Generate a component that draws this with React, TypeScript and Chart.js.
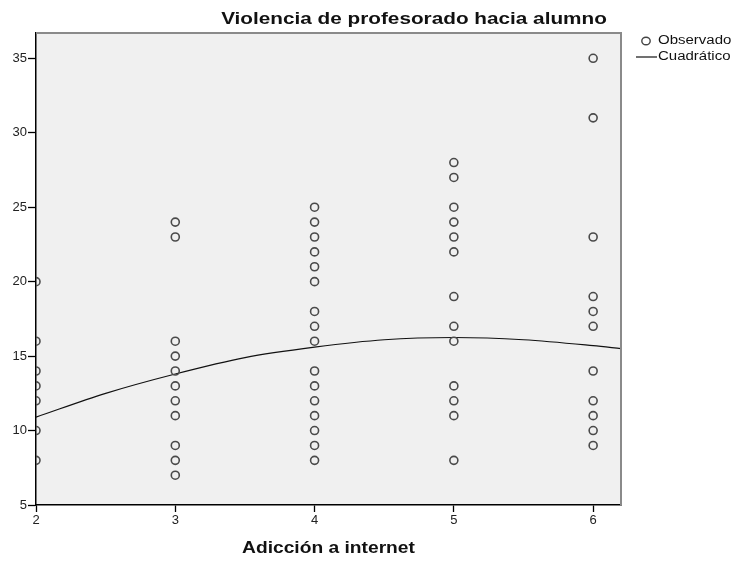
import React, { useEffect, useRef } from "react";
import { Chart, registerables } from "chart.js";

Chart.register(...registerables);

const chartTitle = "Violencia de profesorado hacia alumno";
const xAxisTitle = "Adicción a internet";
const legendObserved = "Observado";
const legendFit = "Cuadrático";

const xLevels = [2, 3, 4, 5, 6];
const valuesAt2 = [20, 16, 14, 13, 12, 10, 8];
const valuesAt3 = [24, 23, 16, 15, 14, 13, 12, 11, 9, 8, 7];
const valuesAt4 = [25, 24, 23, 22, 21, 20, 18, 17, 16, 14, 13, 12, 11, 10, 9, 8];
const valuesAt5 = [28, 27, 25, 24, 23, 22, 19, 17, 16, 13, 12, 11, 8];
const valuesAt6 = [35, 31, 23, 19, 18, 17, 14, 12, 11, 10, 9];
const valuesByLevel = [valuesAt2, valuesAt3, valuesAt4, valuesAt5, valuesAt6];

const curveX = [2, 2.5, 3, 3.5, 4, 4.5, 5, 5.5, 6, 6.2];
const curveY = [10.9, 12.5, 13.8, 14.9, 15.6, 16.1, 16.25, 16.1, 15.7, 15.5];

const yTicks = [5, 10, 15, 20, 25, 30, 35];
const xTicks = [2, 3, 4, 5, 6];

const FONT = '"Liberation Sans", Arial, sans-serif';

function stretchedText(ctx: CanvasRenderingContext2D, text: string, x: number, y: number, font: string, sx: number, align: CanvasTextAlign) {
  ctx.save();
  ctx.font = font;
  ctx.fillStyle = "#111";
  ctx.textBaseline = "middle";
  ctx.textAlign = align;
  ctx.translate(x, y);
  ctx.scale(sx, 1);
  ctx.fillText(text, 0, 0);
  ctx.restore();
}

const decorPlugin = {
  id: "decor",
  beforeDraw(chart: any) {
    const { ctx, chartArea } = chart;
    const { left, top, right, bottom } = chartArea;
    ctx.save();
    ctx.fillStyle = "#ffffff";
    ctx.fillRect(0, 0, chart.width, chart.height);
    ctx.fillStyle = "#f0f0f0";
    ctx.fillRect(left, top, right - left, bottom - top);
    ctx.restore();
  },
  afterDraw(chart: any) {
    const { ctx, chartArea } = chart;
    const { left, top, right, bottom } = chartArea;
    ctx.save();
    ctx.strokeStyle = "#8a8a8a";
    ctx.lineWidth = 2;
    ctx.beginPath();
    ctx.moveTo(left, top);
    ctx.lineTo(right, top);
    ctx.lineTo(right, bottom);
    ctx.stroke();
    ctx.restore();

    stretchedText(ctx, chartTitle, 414, 19, `bold 17px ${FONT}`, 1.22, "center");
    stretchedText(ctx, xAxisTitle, (left + right) / 2, 549, `bold 16px ${FONT}`, 1.2, "center");

    // legend
    ctx.save();
    ctx.strokeStyle = "#444";
    ctx.lineWidth = 1.4;
    ctx.beginPath();
    ctx.ellipse(646, 41, 4.2, 3.8, 0, 0, Math.PI * 2);
    ctx.stroke();
    ctx.strokeStyle = "#111";
    ctx.lineWidth = 1.2;
    ctx.beginPath();
    ctx.moveTo(636, 57);
    ctx.lineTo(657, 57);
    ctx.stroke();
    ctx.restore();
    stretchedText(ctx, legendObserved, 658, 41, `12px ${FONT}`, 1.25, "left");
    stretchedText(ctx, legendFit, 658, 57, `12px ${FONT}`, 1.25, "left");
  },
};

export default function App() {
  const ref = useRef<HTMLCanvasElement | null>(null);

  useEffect(() => {
    if (!ref.current) return;
    const points: { x: number; y: number }[] = [];
    xLevels.forEach((lv, i) => {
      valuesByLevel[i].forEach((v) => points.push({ x: lv, y: v }));
    });
    const curve = curveX.map((x, i) => ({ x, y: curveY[i] }));

    const chart = new Chart(ref.current, {
      type: "scatter",
      data: {
        datasets: [
          {
            label: legendObserved,
            data: points,
            pointStyle: "circle",
            pointRadius: 4,
            pointBorderWidth: 1.6,
            borderColor: "#4a4a4a",
            backgroundColor: "rgba(0,0,0,0)",
            clip: 0,
          } as any,
          {
            label: legendFit,
            type: "line",
            data: curve,
            borderColor: "#111",
            borderWidth: 1.2,
            pointRadius: 0,
            tension: 0.4,
            cubicInterpolationMode: "monotone",
            fill: false,
            clip: 0,
          } as any,
        ],
      },
      options: {
        responsive: false,
        animation: false,
        layout: { padding: { top: 33, right: 114, left: 0, bottom: 0 } },
        plugins: {
          legend: { display: false },
          title: { display: false },
          tooltip: { enabled: false },
        },
        scales: {
          x: {
            type: "linear",
            min: 2,
            max: 6.2,
            afterFit: (s: any) => {
              s.height = 56;
            },
            afterBuildTicks: (s: any) => {
              s.ticks = xTicks.map((v) => ({ value: v }));
            },
            ticks: {
              includeBounds: false,
              padding: 1,
              color: "#222",
              font: { size: 13, family: FONT },
              maxRotation: 0,
            },
            grid: { drawOnChartArea: false, drawTicks: true, tickLength: 7, tickColor: "#000", tickWidth: 1.3 },
            border: { display: true, color: "#000", width: 1.5 },
          },
          y: {
            type: "linear",
            min: 5,
            max: 36.7,
            afterFit: (s: any) => {
              s.width = 36;
            },
            afterBuildTicks: (s: any) => {
              s.ticks = yTicks.map((v) => ({ value: v }));
            },
            ticks: {
              includeBounds: false,
              padding: 1,
              color: "#222",
              font: { size: 13, family: FONT },
            },
            grid: { drawOnChartArea: false, drawTicks: true, tickLength: 8, tickColor: "#000", tickWidth: 1.3 },
            border: { display: true, color: "#000", width: 1.5 },
          },
        },
      },
      plugins: [decorPlugin],
    });
    return () => chart.destroy();
  }, []);

  return (
    <div style={{ position: "fixed", left: 0, top: 0, width: 735, height: 561, background: "#fff" }}>
      <canvas ref={ref} width={735} height={561} style={{ display: "block" }} />
    </div>
  );
}
